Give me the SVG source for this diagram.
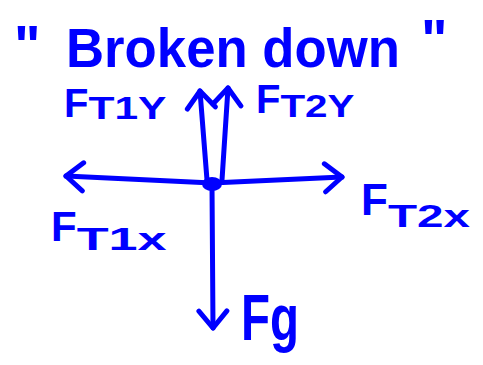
<svg xmlns="http://www.w3.org/2000/svg" width="483" height="365" viewBox="0 0 483 365">
<style>
.ink{stroke:#0000ff;stroke-width:5;fill:none;stroke-linecap:round;stroke-linejoin:round}
.t{font-family:"Liberation Sans",Arial,sans-serif;font-weight:bold;fill:#0000ff}
</style>
<defs>
<marker id="ah" viewBox="-20 -20 40 40" refX="0" refY="0" markerWidth="40" markerHeight="40" markerUnits="userSpaceOnUse" orient="auto">
<path d="M-17,-14 L0,0 L-17,14" stroke="#0000ff" stroke-width="5" fill="none" stroke-linecap="round" stroke-linejoin="round"/>
</marker>
</defs>
<rect width="483" height="365" fill="#ffffff"/>
<g id="title">
<text class="t" x="14" y="64" font-size="56">"<tspan x="66" y="67" textLength="334" lengthAdjust="spacingAndGlyphs">Broken down</tspan><tspan x="421" y="58">"</tspan></text>
</g>
<g id="connectors">
<path class="ink" d="M212,183 L66,176" marker-end="url(#ah)"/>
<path class="ink" d="M212,183 L342,177" marker-end="url(#ah)"/>
<path class="ink" d="M212,185 L213,328" marker-end="url(#ah)"/>
<path class="ink" d="M207,180 L200,91" marker-end="url(#ah)"/>
<path class="ink" d="M222,180 L228,88" marker-end="url(#ah)"/>
<ellipse cx="212" cy="184" rx="10" ry="7" fill="#0000ff"/>
</g>
<g id="FT1Y">
<text class="t" x="64" y="117" font-size="40">F<tspan font-size="32" dy="2" textLength="78" lengthAdjust="spacingAndGlyphs">T1Y</tspan></text>
</g>
<g id="FT2Y">
<text class="t" x="256" y="113" font-size="40">F<tspan font-size="32" dy="4" textLength="74" lengthAdjust="spacingAndGlyphs">T2Y</tspan></text>
</g>
<g id="FT1x">
<text class="t" x="51" y="241" font-size="42">F<tspan font-size="32" dy="9" textLength="90" lengthAdjust="spacingAndGlyphs">T1x</tspan></text>
</g>
<g id="FT2x">
<text class="t" x="361" y="215" font-size="44">F<tspan font-size="32" dy="12" textLength="82" lengthAdjust="spacingAndGlyphs">T2x</tspan></text>
</g>
<g id="Fg">
<text class="t" x="241" y="340" font-size="64" textLength="58" lengthAdjust="spacingAndGlyphs">Fg</text>
</g>
</svg>
